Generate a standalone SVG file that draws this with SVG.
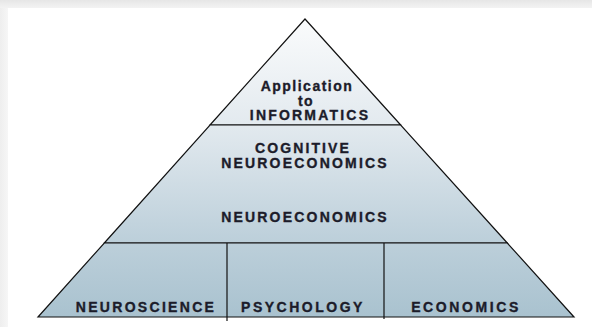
<svg xmlns="http://www.w3.org/2000/svg" width="592" height="327" viewBox="0 0 592 327">
  <defs>
    <linearGradient id="topShade" x1="0" y1="0" x2="0" y2="1">
      <stop offset="0" stop-color="#e6e6e6"/>
      <stop offset="1" stop-color="#f3f3f3"/>
    </linearGradient>
    <linearGradient id="leftShade" x1="0" y1="0" x2="1" y2="0">
      <stop offset="0" stop-color="#eeeeee"/>
      <stop offset="1" stop-color="#f6f6f6"/>
    </linearGradient>
    <linearGradient id="pyr" gradientUnits="userSpaceOnUse" x1="0" y1="19" x2="0" y2="317">
      <stop offset="0" stop-color="#fafbfc"/>
      <stop offset="0.35" stop-color="#e3eaef"/>
      <stop offset="0.75" stop-color="#bccfda"/>
      <stop offset="1" stop-color="#a9c2cf"/>
    </linearGradient>
    <style>
      .band { fill: url(#pyr); stroke: #111; stroke-width: 1.2; stroke-linejoin: miter; }
      .lbl { font-family: "Liberation Sans", Arial, sans-serif; font-weight: bold; font-size: 14px; fill: #1c1c2a; stroke: #1c1c2a; stroke-width: 0.35; text-anchor: middle; letter-spacing: 2.2px; }
      .div { stroke: #111; stroke-width: 1.2; fill: none; }
    </style>
  </defs>

  <rect x="0" y="0" width="592" height="327" fill="#ffffff"/>
  <rect x="0" y="0" width="592" height="8" fill="url(#topShade)"/>
  <rect x="0" y="8" width="8" height="319" fill="url(#leftShade)"/>

  <g id="informatics">
    <polygon class="band" points="305,19 400.7,125 210,125"/>
    <text class="lbl" x="307" y="91" style="letter-spacing:1.5px">Application</text>
    <text class="lbl" x="306" y="105.5" style="letter-spacing:1.5px">to</text>
    <text class="lbl" x="310" y="120" style="letter-spacing:2.2px">INFORMATICS</text>
  </g>

  <g id="neuroeconomics">
    <polygon class="band" points="210,125 400.7,125 507.3,243 104.3,243"/>
    <text class="lbl" x="303" y="153" style="letter-spacing:2.1px">COGNITIVE</text>
    <text class="lbl" x="305" y="168" style="letter-spacing:2.2px">NEUROECONOMICS</text>
    <text class="lbl" x="305" y="222" style="letter-spacing:2.2px">NEUROECONOMICS</text>
  </g>

  <g id="foundation">
    <polygon class="band" points="104.3,243 507.3,243 574,317 38,317"/>
  </g>

  <g id="connectors">
    <line class="div" x1="227" y1="243" x2="227" y2="321"/>
    <line class="div" x1="384" y1="243" x2="384" y2="319"/>
  </g>

  <g id="neuroscience">
    <text class="lbl" x="146" y="312" style="letter-spacing:2.3px">NEUROSCIENCE</text>
  </g>
  <g id="psychology">
    <text class="lbl" x="303" y="312" style="letter-spacing:2.5px">PSYCHOLOGY</text>
  </g>
  <g id="economics">
    <text class="lbl" x="466" y="312" style="letter-spacing:2.6px">ECONOMICS</text>
  </g>
</svg>
